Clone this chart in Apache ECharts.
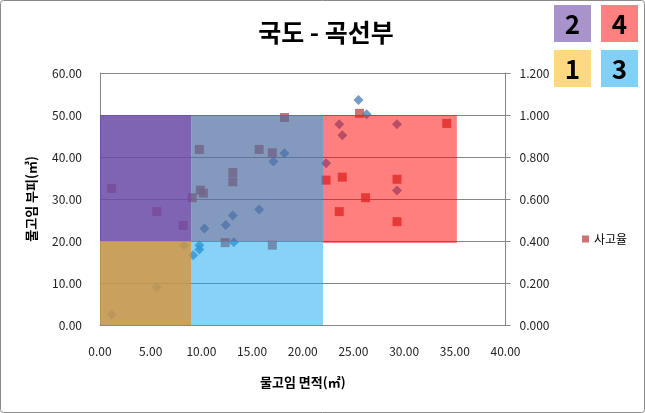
<!DOCTYPE html>
<html>
<head>
<meta charset="utf-8">
<script src="https://cdn.jsdelivr.net/npm/echarts@6/dist/echarts.min.js"></script>
<style>html,body{margin:0;padding:0;background:#fff}#c{width:645px;height:413px}</style>
</head>
<body>
<div id="c"></div>
<script>
// Data
const titleText = '국도 - 곡선부';
const xName = '물고임 면적(㎡)';
const yName = '물고임 부피(㎥)';
const rateName = '사고율';
// volume series (left axis): [area, volume]
const volX = [1.15, 5.6, 8.3, 9.2, 9.8, 9.8, 10.3, 12.4, 13.2, 13.1, 15.7, 17.1, 18.2, 22.3, 23.6, 23.9, 25.5, 26.3, 29.3, 29.3];
const volY = [2.5, 9.0, 19.0, 16.6, 18.0, 19.0, 23.0, 23.8, 19.7, 26.1, 27.5, 38.9, 40.9, 38.5, 47.8, 45.2, 53.6, 50.2, 47.8, 32.0];
// accident rate series (right axis): [area, rate]
const rateX = [1.15, 5.6, 8.2, 9.1, 9.8, 9.9, 10.2, 12.35, 13.1, 13.1, 15.7, 17.0, 17.0, 18.2, 22.3, 23.6, 23.9, 25.6, 26.2, 29.3, 29.3, 34.2];
const rateY = [0.650, 0.540, 0.474, 0.606, 0.836, 0.642, 0.628, 0.392, 0.726, 0.682, 0.836, 0.820, 0.380, 0.988, 0.690, 0.540, 0.704, 1.008, 0.606, 0.694, 0.492, 0.960];
// quadrant boundaries (area / volume)
const qAreaBreaks = [0, 9, 22, 35.2];
const qVolBreaks = [0, 20, 19.5, 50];
const quadLabels = ['2', '4', '1', '3'];

const font = '"Noto Sans CJK KR", "Noto Sans", sans-serif';
const chart = echarts.init(document.getElementById('c'));

const areas = [
  [{xAxis: qAreaBreaks[0], yAxis: qVolBreaks[1], itemStyle: {color: 'rgba(106,73,167,0.85)'}}, {xAxis: qAreaBreaks[1], yAxis: qVolBreaks[3]}],
  [{xAxis: qAreaBreaks[1], yAxis: qVolBreaks[1], itemStyle: {color: 'rgba(79,109,161,0.7)'}}, {xAxis: qAreaBreaks[2], yAxis: qVolBreaks[3]}],
  [{xAxis: qAreaBreaks[2], yAxis: qVolBreaks[2], itemStyle: {color: 'rgba(255,0,0,0.5)'}}, {xAxis: qAreaBreaks[3], yAxis: qVolBreaks[3]}],
  [{xAxis: qAreaBreaks[0], yAxis: qVolBreaks[0], itemStyle: {color: 'rgba(196,150,78,0.9)'}}, {xAxis: qAreaBreaks[1], yAxis: qVolBreaks[1]}],
  [{xAxis: qAreaBreaks[1], yAxis: qVolBreaks[0], itemStyle: {color: 'rgba(15,167,239,0.5)'}}, {xAxis: qAreaBreaks[2], yAxis: qVolBreaks[1]}]
];

const boxColors = ['#A893CC', '#FF8080', '#FFD981', '#82D0F5'];
const boxPos = [[554, 5], [601, 5], [554, 50], [601, 50]];
const graphics = [{
  type: 'rect', shape: {x: 0.5, y: 0.5, width: 644, height: 412, r: 3},
  style: {fill: 'none', stroke: '#8a8a8a', lineWidth: 1}, z: 100
}];
quadLabels.forEach((t, i) => {
  graphics.push({
    type: 'group', left: boxPos[i][0], top: boxPos[i][1],
    children: [
      {type: 'rect', shape: {x: 0, y: 0, width: 37, height: 37}, style: {fill: boxColors[i]}},
      {type: 'text', x: 18.5, y: 19, style: {text: t, fill: '#000', font: 'bold 26px ' + font, align: 'center', verticalAlign: 'middle'}}
    ]
  });
});

chart.setOption({
  animation: false,
  backgroundColor: '#fff',
  title: {
    text: titleText, left: 321, top: 15, textAlign: 'center',
    textStyle: {fontFamily: font, fontSize: 25, fontWeight: 'bold', color: '#000'}
  },
  legend: {
    data: [rateName], left: 577, top: 228, icon: 'rect', itemWidth: 7, itemHeight: 7, itemGap: 4,
    textStyle: {fontFamily: font, fontSize: 12, color: '#000'}
  },
  graphic: graphics,
  grid: {left: 100, right: 139.5, top: 73, bottom: 88, containLabel: false},
  xAxis: {
    type: 'value', min: 0, max: 40, interval: 5,
    name: xName, nameLocation: 'middle', nameGap: 51,
    nameTextStyle: {fontFamily: font, fontSize: 13, fontWeight: 'bold', color: '#000'},
    axisLine: {show: true, lineStyle: {color: '#868686'}},
    axisTick: {show: false},
    splitLine: {show: false},
    axisLabel: {margin: 20, fontFamily: font, fontSize: 12, color: '#222', formatter: v => v.toFixed(2)}
  },
  yAxis: [{
    type: 'value', min: 0, max: 60, interval: 10,
    name: yName, nameLocation: 'middle', nameGap: 62, nameRotate: 90,
    nameTextStyle: {fontFamily: font, fontSize: 13, fontWeight: 'bold', color: '#000'},
    axisLine: {show: true, lineStyle: {color: '#868686'}},
    axisTick: {show: false},
    splitLine: {show: true, lineStyle: {color: '#868686'}},
    axisLabel: {margin: 18, fontFamily: font, fontSize: 12, color: '#222', formatter: v => v.toFixed(2)}
  }, {
    type: 'value', min: 0, max: 1.2, interval: 0.2, position: 'right',
    axisLine: {show: true, lineStyle: {color: '#868686'}},
    axisTick: {show: true, inside: false, length: 5, lineStyle: {color: '#868686'}},
    splitLine: {show: false},
    axisLabel: {margin: 14, fontFamily: font, fontSize: 12, color: '#222', formatter: v => v.toFixed(3)}
  }],
  series: [{
    name: '물고임 부피', type: 'scatter', yAxisIndex: 0, z: 2,
    symbol: 'diamond', symbolSize: 10,
    itemStyle: {color: '#4F81BD'},
    data: volX.map((x, i) => [x, volY[i]])
  }, {
    name: rateName, type: 'scatter', yAxisIndex: 1, z: 2,
    symbol: 'rect', symbolSize: 9,
    itemStyle: {color: '#C0504D'},
    data: rateX.map((x, i) => [x, rateY[i]])
  }, {
    name: 'quadrants', type: 'scatter', yAxisIndex: 0, z: 10, silent: true,
    data: [],
    markArea: {silent: true, z: 10, data: areas}
  }]
});
</script>
</body>
</html>
